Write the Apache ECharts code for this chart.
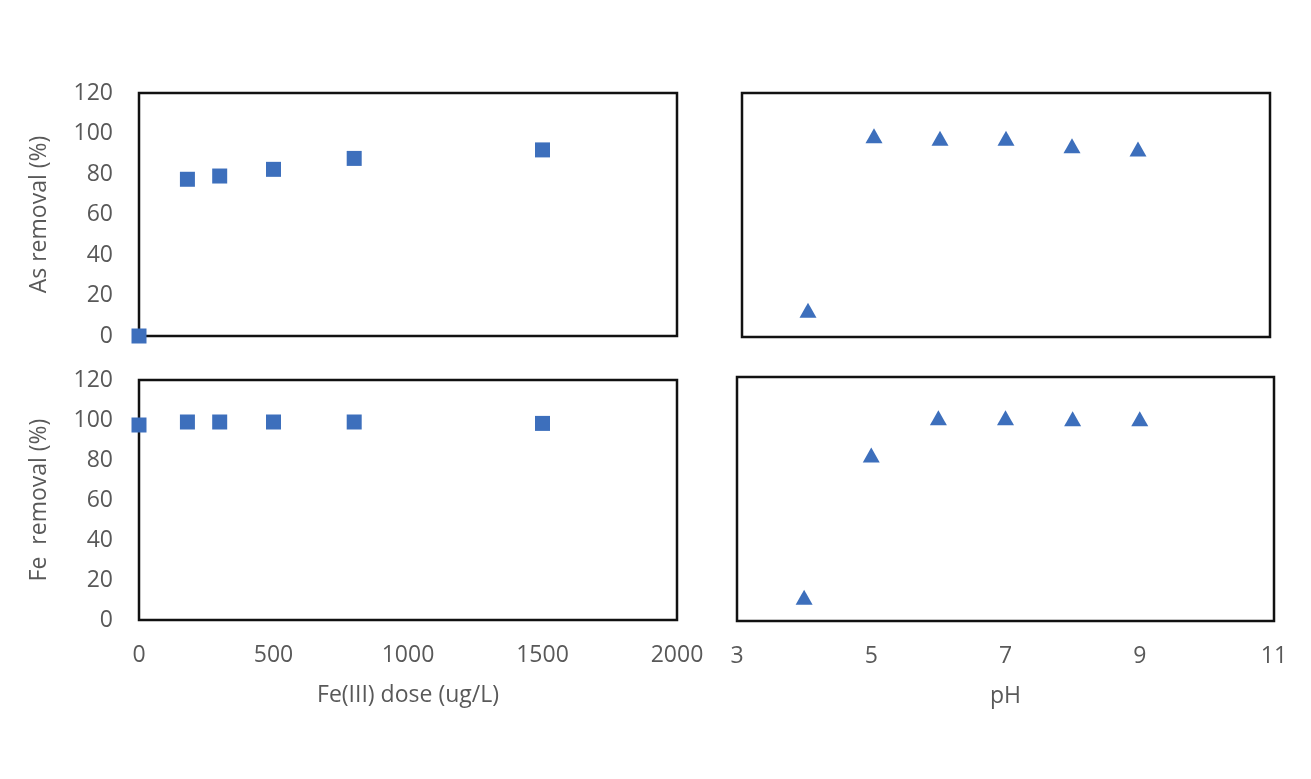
<!DOCTYPE html>
<html>
<head>
<meta charset="utf-8">
<script src="https://cdn.jsdelivr.net/npm/echarts@6/dist/echarts.min.js"></script>
<style>
html,body{margin:0;padding:0;background:#ffffff;}
#c{width:1311px;height:779px;}
</style>
</head>
<body>
<div id="c"></div>
<script>
// Data
const doseValues = [0, 180, 300, 500, 800, 1500];
const asRemovalDose = [0, 77.4, 79, 82.3, 87.7, 91.9];
const feRemovalDose = [97.5, 99, 99, 99, 99, 98.3];
const phValues = [4, 5, 6, 7, 8, 9];
const asRemovalPH = [13.1, 99, 97.7, 97.7, 94.1, 92.5];
const feRemovalPH = [11.7, 81.7, 100, 100, 99.5, 99.5];
const doseTicks = [0, 500, 1000, 1500, 2000];
const phTicks = [3, 5, 7, 9, 11];
const yTicks = [0, 20, 40, 60, 80, 100, 120];

const FONT = 'Open Sans';
const TXT = '#595959';
const FS = 23;
const BLUE = '#3d6fbc';

function pairs(xs, ys){ return xs.map((x,i)=>[x, ys[i]]); }
const plain = v => String(v);

const chart = echarts.init(document.getElementById('c'), null, {renderer:'canvas'});

function grid(left, top, width, height){
  return {left, top, width, height, show:true, borderColor:'#111111', borderWidth:2.5, backgroundColor:'transparent', containLabel:false};
}
function xAxis(gi, min, max, ticks, showLabels, name){
  return {
    type:'value', gridIndex:gi, min, max,
    axisLine:{show:false}, axisTick:{show:false}, splitLine:{show:false},
    axisLabel:{show:showLabels, customValues:ticks, formatter:plain, color:TXT, fontFamily:FONT, fontSize:FS, margin:24, showMinLabel:true, showMaxLabel:true},
    name: name || '', nameLocation:'middle', nameGap:64,
    nameTextStyle:{color:TXT, fontFamily:FONT, fontSize:FS}
  };
}
function yAxis(gi, showLabels, name){
  return {
    type:'value', gridIndex:gi, min:0, max:120,
    axisLine:{show:false}, axisTick:{show:false}, splitLine:{show:false},
    axisLabel:{show:showLabels, customValues:yTicks, formatter:plain, color:TXT, fontFamily:FONT, fontSize:FS, margin:26},
    name: name || '', nameLocation:'middle', nameGap:88, nameRotate:90,
    nameTextStyle:{color:TXT, fontFamily:FONT, fontSize:FS}
  };
}
function scatter(i, xs, ys, symbol, size){
  return {type:'scatter', xAxisIndex:i, yAxisIndex:i, data:pairs(xs, ys), symbol, symbolSize:size,
    itemStyle:{color:BLUE, opacity:1}, emphasis:{disabled:true}};
}

const option = {
  backgroundColor:'#ffffff',
  animation:false,
  grid:[
    grid(139, 93, 538, 243),
    grid(139, 380, 538, 240),
    grid(742, 93, 528, 244),
    grid(737, 377, 537, 244)
  ],
  xAxis:[
    xAxis(0, 0, 2000, doseTicks, false),
    xAxis(1, 0, 2000, doseTicks, true, 'Fe(III) dose (ug/L)'),
    xAxis(2, 3, 11, phTicks, false),
    xAxis(3, 3, 11, phTicks, true, 'pH')
  ],
  yAxis:[
    yAxis(0, true, 'As removal (%)'),
    yAxis(1, true, 'Fe  removal (%)'),
    yAxis(2, false),
    yAxis(3, false)
  ],
  series:[
    scatter(0, doseValues, asRemovalDose, 'rect', 15),
    scatter(1, doseValues, feRemovalDose, 'rect', 15),
    scatter(2, phValues, asRemovalPH, 'triangle', [17,15]),
    scatter(3, phValues, feRemovalPH, 'triangle', [17,15])
  ]
};
chart.setOption(option);
</script>
</body>
</html>
